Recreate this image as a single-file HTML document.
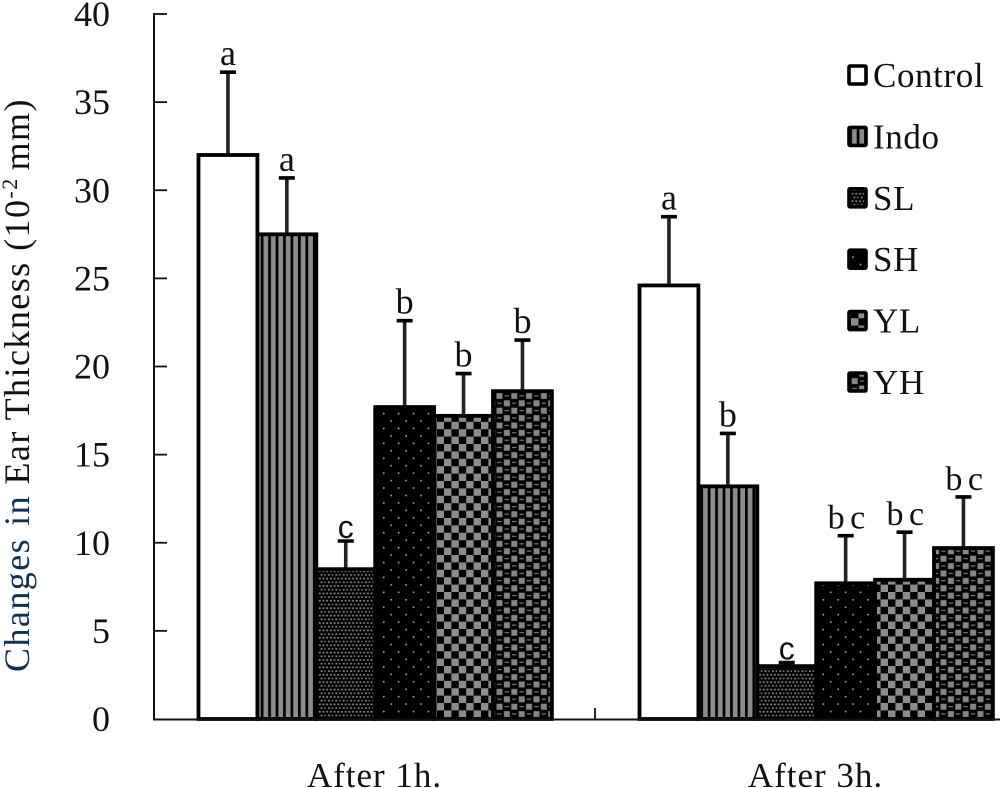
<!DOCTYPE html>
<html>
<head>
<meta charset="utf-8">
<style>
html,body{margin:0;padding:0;background:#fff;}
svg{display:block;}
text{font-family:"Liberation Serif",serif;fill:#111;}
</style>
</head>
<body>
<svg id="chart" width="1000" height="788" viewBox="0 0 1000 788" xmlns="http://www.w3.org/2000/svg">
<defs>
<pattern id="p-control" patternUnits="userSpaceOnUse" width="8" height="8"><rect width="8" height="8" fill="#fff"/></pattern>
<pattern id="p-indo" patternUnits="userSpaceOnUse" width="7.45" height="8"><rect width="7.45" height="8" fill="#8c8c8c"/><rect x="0" width="2.7" height="8" fill="#000"/></pattern>
<pattern id="p-sl" patternUnits="userSpaceOnUse" width="7.4" height="7.4"><rect width="7.4" height="7.4" fill="#000"/><rect x="0.6" y="0.6" width="1.9" height="1.6" fill="#8c8c8c"/><rect x="4.3" y="0.6" width="1.9" height="1.6" fill="#8c8c8c"/><rect x="2.4" y="4.3" width="1.9" height="1.6" fill="#8c8c8c"/><rect x="6.1" y="4.3" width="1.3" height="1.6" fill="#8c8c8c"/></pattern>
<pattern id="p-sh" patternUnits="userSpaceOnUse" width="14.9" height="14.9"><rect width="14.9" height="14.9" fill="#000"/><rect x="3" y="3" width="1.6" height="1.6" fill="#aaa"/><rect x="10.45" y="10.45" width="1.6" height="1.6" fill="#aaa"/></pattern>
<pattern id="p-yl" patternUnits="userSpaceOnUse" width="14.8" height="14.8"><rect width="14.8" height="14.8" fill="#000"/><rect width="7.4" height="7.4" fill="#8c8c8c"/><rect x="7.4" y="7.4" width="7.4" height="7.4" fill="#8c8c8c"/></pattern>
<pattern id="p-yh" patternUnits="userSpaceOnUse" width="14.8" height="14.8"><rect width="14.8" height="14.8" fill="#000"/><rect x="0.7" y="0.7" width="6" height="6" fill="#858585"/><rect x="8.1" y="8.1" width="6" height="6" fill="#858585"/><rect x="8.8" y="3" width="4.4" height="1.1" fill="#858585"/><rect x="1.4" y="10.5" width="4.4" height="1.1" fill="#858585"/></pattern>
</defs>
<g id="marks"></g>
<g id="axes"></g>
<g id="legend"></g>
<text transform="translate(29,672) rotate(-90)" font-size="36" letter-spacing="1.45"><tspan fill="#12304f">Changes</tspan><tspan fill="#12304f" dx="12">in</tspan> Ear Thickness (10<tspan font-size="22" dy="-12">-2 </tspan><tspan dy="12">mm)</tspan></text>
</svg>
<script>
var categories = ['After 1h.', 'After 3h.'];
var seriesNames = ['Control', 'Indo', 'SL', 'SH', 'YL', 'YH'];
var meansControl = [32.0, 24.6];
var meansIndo = [27.5, 13.2];
var meansSL = [8.5, 3.0];
var meansSH = [17.7, 7.7];
var meansYL = [17.2, 7.9];
var meansYH = [18.6, 9.7];
var upperControl = [36.7, 28.5];
var upperIndo = [30.7, 16.2];
var upperSL = [10.1, 3.2];
var upperSH = [22.6, 10.4];
var upperYL = [19.6, 10.6];
var upperYH = [21.5, 12.6];
var lettersControl = ['a', 'a'];
var lettersIndo = ['a', 'b'];
var lettersSL = ['c', 'c'];
var lettersSH = ['b', 'b c'];
var lettersYL = ['b', 'b c'];
var lettersYH = ['b', 'b c'];
var yTicks = [0, 5, 10, 15, 20, 25, 30, 35, 40];

var means = [meansControl, meansIndo, meansSL, meansSH, meansYL, meansYH];
var uppers = [upperControl, upperIndo, upperSL, upperSH, upperYL, upperYH];
var letters = [lettersControl, lettersIndo, lettersSL, lettersSH, lettersYL, lettersYH];
var fills = ['p-control', 'p-indo', 'p-sl', 'p-sh', 'p-yl', 'p-yh'];

var NS = 'http://www.w3.org/2000/svg';
function yScale(v) { return 719 - v * 17.625; }
function groupLeft(i) { return 154 + 441 * i; }
function barX(g, s) { return groupLeft(g) + 44.5 + s * 58.9; }
var BAR_W = 58.9;
function make(tag, attrs, parent) {
  var n = document.createElementNS(NS, tag);
  for (var k in attrs) n.setAttribute(k, attrs[k]);
  parent.appendChild(n);
  return n;
}
var marks = document.getElementById('marks');
var axes = document.getElementById('axes');
var legend = document.getElementById('legend');

means.forEach(function (vals, s) {
  vals.forEach(function (v, g) {
    var x = barX(g, s), y = yScale(v), cx = x + BAR_W / 2, top = yScale(uppers[s][g]);
    var stem = make('line', {x1: cx, x2: cx, y1: y, y2: top, stroke: '#222', 'stroke-width': 3.6}, marks);
    
    
    var cap = make('line', {x1: cx - 8, x2: cx + 8, y1: top, y2: top, stroke: '#000', 'stroke-width': 3.6}, marks);
    
    
    var text = letters[s][g];
    var isC = text === 'c';
    var isPair = text === 'b c';
    var label = make('text', {x: cx, y: top - (isC ? 3 : 7), 'text-anchor': 'middle', 'font-size': isC ? 32 : (isPair ? 34 : 36)}, marks);
    if (isC) label.style.fontFamily = '"Liberation Sans", sans-serif';
    if (isPair) label.style.letterSpacing = '-1.5px';
    label.textContent = text;
    
    
  });
});
means.forEach(function (vals, s) {
  vals.forEach(function (v, g) {
    var x = barX(g, s), y = yScale(v);
    var bar = make('rect', {x: x, y: y, width: BAR_W, height: 719 - y, fill: 'url(#' + fills[s] + ')', stroke: '#000', 'stroke-width': 3.8}, marks);
    
    
  });
});

var yAxis = make('line', {x1: 154, x2: 154, y1: yScale(40) - 1, y2: 720, stroke: '#111', 'stroke-width': 2}, axes);


var xAxis = make('line', {x1: 153, x2: 1000, y1: 719.5, y2: 719.5, stroke: '#111', 'stroke-width': 2}, axes);


yTicks.forEach(function (t) {
  var y = yScale(t);
  if (t > 0) {
    var mark = make('line', {x1: 154, x2: 167, y1: y, y2: y, stroke: '#111', 'stroke-width': 1.8}, axes);
    
    
  }
  var lab = make('text', {x: 110, y: y + 12, 'text-anchor': 'end', 'font-size': 36}, axes);
  lab.textContent = t;
  
  
});
var midTick = make('line', {x1: groupLeft(1), x2: groupLeft(1), y1: 708, y2: 719, stroke: '#111', 'stroke-width': 1.8}, axes);


categories.forEach(function (c, g) {
  var lab = make('text', {x: groupLeft(g) + 220.5, y: 787, 'text-anchor': 'middle', 'font-size': 35, 'letter-spacing': 1}, axes);
  lab.textContent = c;
  
  
});
seriesNames.forEach(function (name, s) {
  var y = 66 + s * 61.4;
  var sw = make('rect', {x: 849, y: y, width: 17, height: 18, fill: 'url(#' + fills[s] + ')', stroke: '#000', 'stroke-width': 3.6, rx: 1}, legend);
  
  
  var t = make('text', {x: 873, y: y + 21, 'font-size': 35, 'letter-spacing': 0.6}, legend);
  t.textContent = name;
  
  
});
</script>
</body>
</html>
